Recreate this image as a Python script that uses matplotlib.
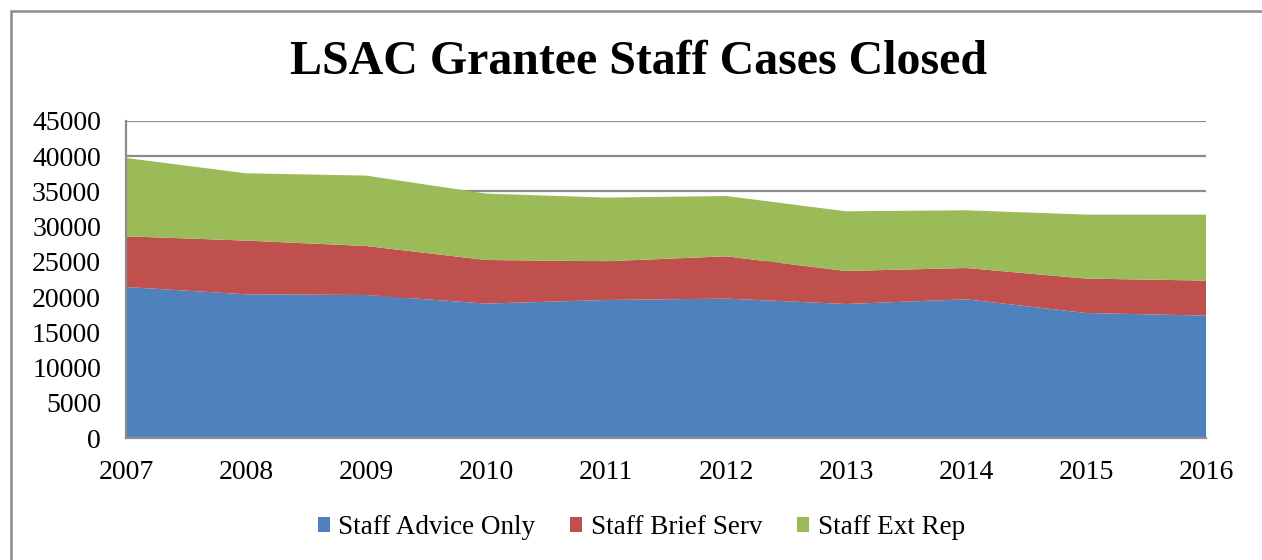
import matplotlib.pyplot as plt
from matplotlib.patches import Rectangle

plt.rcParams['font.family'] = ['Liberation Serif', 'DejaVu Serif']

years = [2007, 2008, 2009, 2010, 2011, 2012, 2013, 2014, 2015, 2016]
advice_only = [21436, 20400, 20300, 19080, 19590, 19790, 19023, 19690, 17745, 17376]
brief_serv = [7197, 7624, 6956, 6190, 5495, 6004, 4684, 4443, 4884, 4968]
ext_rep = [11117, 9553, 9994, 9425, 9042, 8561, 8476, 8191, 9085, 9370]

labels = ['Staff Advice Only', 'Staff Brief Serv', 'Staff Ext Rep']
colors = ['#4F81BD', '#C0504D', '#9BBB59']

fig = plt.figure(figsize=(12.62, 5.6), dpi=100)
ax = fig.add_axes([126 / 1262, 1 - 438 / 560, 1080 / 1262, 317 / 560])

polys = ax.stackplot(years, advice_only, brief_serv, ext_rep,
                     colors=colors, labels=labels, zorder=2)

ax.set_xlim(2007, 2016)
ax.set_ylim(0, 45000)
ax.set_yticks(range(0, 45001, 5000))
ax.set_xticks(years)
ax.yaxis.grid(True, color='#8c8c8c', linewidth=1.6, zorder=1)
ax.set_axisbelow(True)
for s in ['top', 'right']:
    ax.spines[s].set_visible(False)
for s in ['left', 'bottom']:
    ax.spines[s].set_color('#8c8c8c')
    ax.spines[s].set_linewidth(1.6)
    ax.spines[s].set_zorder(3)
ax.tick_params(axis='both', length=0, labelsize=20)
ax.tick_params(axis='y', pad=18)
ax.tick_params(axis='x', pad=16)

fig.text(0.506, 0.889, 'LSAC Grantee Staff Cases Closed', ha='center', va='center',
         fontsize=34.5, fontweight='bold')

fig.legend(polys, labels, loc='center', bbox_to_anchor=(0.508, 0.058), ncol=3,
           frameon=False, fontsize=19.5, handlelength=0.45, handleheight=0.45,
           handletextpad=0.3, columnspacing=1.3)

fig.patches.append(Rectangle((11 / 1262, -0.05), 1.0, 1 - 11 / 560 + 0.05, transform=fig.transFigure,
                             fill=False, edgecolor='#8c8c8c', linewidth=1.8))

fig.savefig('out.png', dpi=100)
